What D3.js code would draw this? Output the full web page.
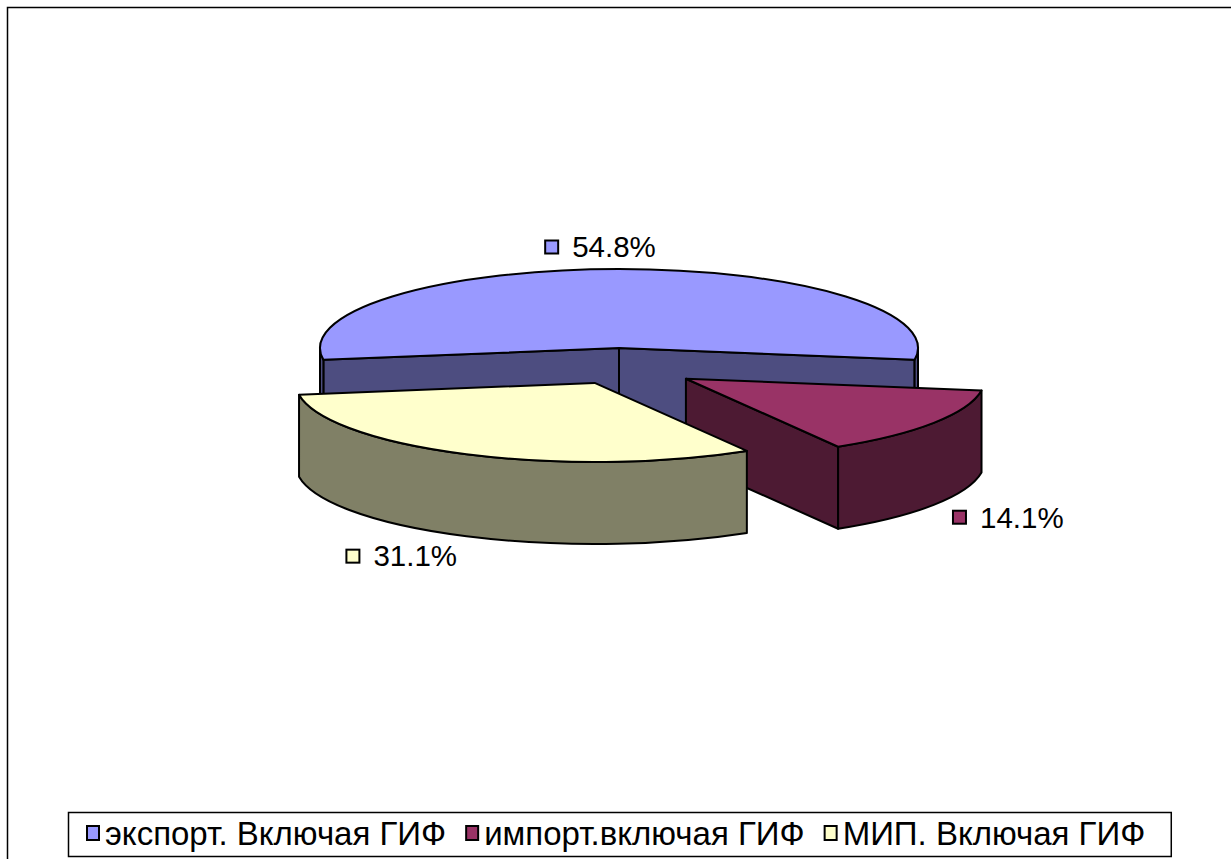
<!DOCTYPE html>
<html>
<head>
<meta charset="utf-8">
<script src="https://cdn.jsdelivr.net/npm/d3@7"></script>
<style>
	body { margin: 0; background: #fff; }
	svg { display: block; font-family: "Liberation Sans", Arial, sans-serif; }
</style>
</head>
<body>
<svg id="chart" width="1231" height="859"></svg>
<script>
// chart data
var categories = ["экспорт. Включая ГИФ", "импорт.включая ГИФ", "МИП. Включая ГИФ"];
var values = [54.8, 14.1, 31.1];
var labels = ["54.8%", "14.1%", "31.1%"];
var topColors = ["#9999FF", "#993366", "#FFFFCC"];
var sideColors = ["#4D4D80", "#4D1A33", "#808066"];
var explode = [0, 0.27, 0.19];

var width = 1231, height = 859;
var cx = 619, cy = 348, rx = 299, ry = 79, depth = 82;
var labelGap = 22;

var svg = d3.select("#chart");

// outer frame
svg.append("rect")
	.attr("x", 7.5).attr("y", 7.5)
	.attr("width", 1240).attr("height", 900)
	.attr("fill", "none")
	.attr("stroke", "#000")
	.attr("stroke-width", 1.5);

// first slice centred at the back of the pie
var total = d3.sum(values);
var pie = d3.pie().sort(null)
	.startAngle(-Math.PI * values[0] / total)
	.endAngle(2 * Math.PI - Math.PI * values[0] / total);

var slices = pie(values).map(function(d, i) {
	// d3 angles start at 12 o'clock, convert to screen angles from 3 o'clock
	var a0 = d.startAngle - Math.PI / 2,
		a1 = d.endAngle - Math.PI / 2,
		mid = (a0 + a1) / 2;
	var e = explode[i] * rx;
	return {
		i: i, a0: a0, a1: a1, mid: mid,
		ox: e * Math.cos(mid),
		oy: e * 0.68 * Math.sin(mid)
	};
});

function pt(s, t, dz) {
	return [cx + s.ox + rx * Math.cos(t), cy + s.oy + ry * Math.sin(t) + (dz || 0)];
}

function topPath(s) {
	var c = [cx + s.ox, cy + s.oy], p0 = pt(s, s.a0), p1 = pt(s, s.a1);
	var large = (s.a1 - s.a0) > Math.PI ? 1 : 0;
	return "M" + c + "L" + p0 + "A" + rx + "," + ry + " 0 " + large + " 1 " + p1 + "Z";
}

function wallPath(s, t0, t1) {
	var p0 = pt(s, t0), p1 = pt(s, t1), q1 = pt(s, t1, depth), q0 = pt(s, t0, depth);
	return "M" + p0 + "A" + rx + "," + ry + " 0 0 1 " + p1 +
		"L" + q1 + "A" + rx + "," + ry + " 0 0 0 " + q0 + "Z";
}

function radialPath(s, t) {
	var c = [cx + s.ox, cy + s.oy], p = pt(s, t);
	return "M" + c + "L" + p + "L" + [p[0], p[1] + depth] + "L" + [c[0], c[1] + depth] + "Z";
}

// draw back to front
var order = slices.slice().sort(function(a, b) { return Math.sin(a.mid) - Math.sin(b.mid); });

var g = svg.append("g")
	.attr("stroke", "#000")
	.attr("stroke-width", 2)
	.attr("stroke-linejoin", "round");

order.forEach(function(s) {
	var sg = g.append("g");
	// radial side walls facing the viewer
	if (Math.cos(s.a0) < 0) {
		sg.append("path").attr("d", radialPath(s, s.a0)).attr("fill", sideColors[s.i]);
	}
	if (Math.cos(s.a1) > 0) {
		sg.append("path").attr("d", radialPath(s, s.a1)).attr("fill", sideColors[s.i]);
	}
	// outer wall where it is in front (0..pi)
	for (var k = -1; k <= 2; k++) {
		var lo = Math.max(s.a0, 2 * Math.PI * k), hi = Math.min(s.a1, 2 * Math.PI * k + Math.PI);
		if (hi - lo > 0.001) {
			sg.append("path").attr("d", wallPath(s, lo, hi)).attr("fill", sideColors[s.i]);
		}
	}
	sg.append("path").attr("d", topPath(s)).attr("fill", topColors[s.i]);
});

// data labels
var lg = svg.append("g").attr("font-size", 29.5).attr("fill", "#000");
slices.forEach(function(s) {
	var c = Math.cos(s.mid), sn = Math.sin(s.mid);
	var x = cx + s.ox + (rx + labelGap) * c;
	var y = cy + s.oy + (ry + labelGap) * sn + (sn > 0 ? depth : 0);
	var t = lg.append("text").attr("y", y).attr("dy", "0.35em").text(labels[s.i]);
	var w = t.node().getComputedTextLength();
	var tx;
	if (c > 0.3) tx = x + 28;
	else if (c < -0.3) tx = x - w;
	else tx = x - w / 2 - 5;
	t.attr("x", tx);
	lg.append("rect")
		.attr("x", tx - 27).attr("y", y - 6.5)
		.attr("width", 13).attr("height", 13)
		.attr("fill", topColors[s.i])
		.attr("stroke", "#000").attr("stroke-width", 2);
});

// legend
var legend = svg.append("g");
var box = legend.append("rect")
	.attr("fill", "#fff").attr("stroke", "#000").attr("stroke-width", 1.5);
var lx = 87, ly = 833;
categories.forEach(function(name, i) {
	legend.append("rect")
		.attr("x", lx).attr("y", ly - 7)
		.attr("width", 12).attr("height", 14)
		.attr("fill", topColors[i])
		.attr("stroke", "#000").attr("stroke-width", 2);
	var t = legend.append("text")
		.attr("x", lx + 18).attr("y", ly).attr("dy", "0.35em")
		.attr("font-size", 33)
		.text(name);
	lx = lx + 18 + t.node().getComputedTextLength() + 20;
});
box.attr("x", 68.5).attr("y", 812.5)
	.attr("width", lx - 68.5 + 6).attr("height", 44);
</script>
</body>
</html>
